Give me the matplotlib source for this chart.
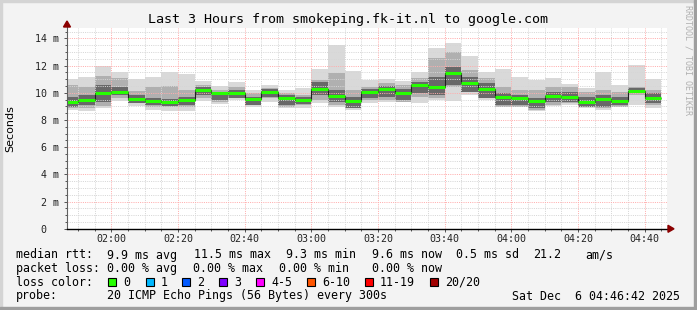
import matplotlib
matplotlib.use("Agg")
import matplotlib.pyplot as plt
import matplotlib.dates as mdates
from matplotlib.patches import Rectangle, Polygon
from matplotlib.lines import Line2D
import pandas as pd
import numpy as np

# ---------------- data (ms) ----------------
interval_end = pd.date_range("2025-12-06 01:50", "2025-12-06 04:45", freq="5min")
median_ms = [9.35, 9.47, 9.96, 10.06, 9.54, 9.40, 9.35, 9.45, 10.18, 9.96,
             9.96, 9.57, 10.06, 9.64, 9.47, 10.28, 9.79, 9.42, 10.06, 10.28,
             10.01, 10.60, 10.43, 11.46, 10.74, 10.28, 9.72, 9.62, 9.40, 9.79,
             9.69, 9.32, 9.54, 9.42, 10.16, 9.64]
ping_max = [11.01, 11.19, 11.99, 11.53, 11.01, 11.19, 11.53, 11.41, 10.89, 10.52,
            10.82, 10.21, 10.55, 10.21, 10.38, 11.75, 13.51, 11.60, 10.94, 11.01,
            10.89, 11.53, 13.27, 13.64, 12.71, 11.55, 11.75, 11.14, 10.94, 11.06,
            10.62, 10.33, 11.53, 10.57, 12.04, 10.99]
ping_min = [8.73, 8.66, 8.90, 9.38, 9.05, 8.73, 8.69, 8.69, 9.42, 9.18,
            9.47, 8.98, 9.35, 8.90, 8.90, 9.22, 8.95, 8.73, 9.22, 9.35,
            9.30, 9.27, 9.47, 9.42, 9.84, 9.47, 8.93, 8.98, 8.63, 9.03,
            9.10, 8.86, 8.73, 8.93, 9.10, 8.86]
mid_hi = [10.57, 10.45, 11.23, 11.06, 10.16, 10.45, 10.50, 10.21, 10.57, 10.21,
          10.45, 9.96, 10.33, 9.96, 9.84, 10.94, 11.43, 10.21, 10.45, 10.70,
          10.57, 11.06, 12.53, 13.02, 11.68, 11.06, 10.45, 10.21, 10.21, 10.45,
          10.45, 10.08, 10.21, 10.08, 10.45, 10.21]
mid_lo = [8.86, 8.86, 9.03, 9.59, 9.22, 8.98, 8.98, 8.98, 9.59, 9.35,
          9.59, 9.10, 9.59, 8.98, 9.10, 9.47, 9.10, 8.86, 9.47, 9.47,
          9.35, 9.72, 9.59, 10.45, 10.08, 9.59, 8.98, 8.98, 8.73, 9.10,
          9.22, 8.98, 8.86, 8.98, 9.84, 9.10]
core_hi = [9.72, 9.84, 10.57, 10.45, 9.84, 9.59, 9.52, 9.72, 10.45, 10.08,
           10.21, 9.72, 10.25, 9.84, 9.67, 10.82, 10.21, 9.72, 10.25, 10.50,
           10.25, 10.82, 11.19, 11.92, 11.19, 10.70, 9.96, 9.84, 9.59, 10.08,
           10.08, 9.72, 9.84, 9.72, 10.33, 9.96]
core_lo = [8.98, 9.10, 9.35, 9.84, 9.27, 9.10, 9.03, 9.10, 9.84, 9.47,
           9.59, 9.10, 9.72, 9.10, 9.18, 9.84, 9.35, 8.86, 9.59, 9.72,
           9.47, 9.96, 9.84, 10.57, 10.08, 9.59, 9.10, 9.10, 8.86, 9.35,
           9.35, 8.98, 8.98, 9.10, 9.96, 9.22]

y_ticks = [0, 2, 4, 6, 8, 10, 12, 14]
y_tick_labels = ["0  ", "2 m", "4 m", "6 m", "8 m", "10 m", "12 m", "14 m"]

title = "Last 3 Hours from smokeping.fk-it.nl to google.com"
loss_labels = ["0", "1", "2", "3", "4-5", "6-10", "11-19", "20/20"]
loss_colors = ["#26ff00", "#00b8ff", "#0059ff", "#7e00ff", "#ff00ff", "#ff5500", "#ff0000", "#a00000"]

# ---------------- layout ----------------
W, H = 697, 310
fig = plt.figure(figsize=(W / 100, H / 100), dpi=100)
fig.patch.set_facecolor("#f3f3f3")

def fx(px):
    return px / W

def fy(py):
    return 1 - py / H

ax_left, ax_right, ax_top, ax_bot = 67, 667, 28, 228.8
ax = fig.add_axes([fx(ax_left), fy(ax_bot), (ax_right - ax_left) / W, (ax_bot - ax_top) / H])
ax.set_facecolor("white")

t_start = mdates.date2num(pd.Timestamp("2025-12-06 01:46:42"))
t_end = mdates.date2num(pd.Timestamp("2025-12-06 04:46:42"))
ends = mdates.date2num(interval_end)
step = 5 / 1440.0
lefts = ends - step
edges = np.append(lefts, ends[-1])

med = np.array(median_ms)
# smoke
ax.bar(lefts, np.array(ping_max) - np.array(ping_min), bottom=ping_min, width=step,
       align="edge", color="#d9d9d9", linewidth=0, zorder=1)
ax.bar(lefts, np.array(mid_hi) - np.array(mid_lo), bottom=mid_lo, width=step,
       align="edge", color="#b0b0b0", linewidth=0, zorder=1.1)
ax.bar(lefts, np.array(core_hi) - np.array(core_lo), bottom=core_lo, width=step,
       align="edge", color="#686868", linewidth=0, zorder=1.2)

ax.set_xlim(t_start, t_end)
ax.set_ylim(0, 14.76)

# grid
ax.xaxis.set_major_locator(mdates.MinuteLocator(byminute=[0, 20, 40]))
ax.xaxis.set_minor_locator(mdates.MinuteLocator(byminute=range(0, 60, 5)))
ax.xaxis.set_major_formatter(mdates.DateFormatter("%H:%M"))
ax.set_yticks(y_ticks)
ax.set_yticklabels(y_tick_labels)
ax.set_yticks(np.arange(0, 14.76, 0.5), minor=True)

ax.grid(which="minor", color="#d6d6d6", linestyle=(0, (1, 1.2)), linewidth=0.72)
ax.grid(which="major", color="#ffadad", linestyle=(0, (1, 1.2)), linewidth=0.72)
ax.xaxis.set_zorder(4)
ax.yaxis.set_zorder(4)

# median line
ax.stairs(med, edges, baseline=None, color="#202020", linewidth=0.8, zorder=6)
ax.hlines(med, lefts, ends, color="#26ff00", linewidth=2.2, zorder=7)

for s in ax.spines.values():
    s.set_visible(False)

mono = "DejaVu Sans Mono"
ax.tick_params(axis="both", which="major", length=2.5, width=0.7, color="#555555",
               labelsize=7.2, labelcolor="#222222")
ax.tick_params(axis="both", which="minor", length=1.5, width=0.7, color="#555555")
ax.tick_params(axis="y", which="major", pad=3)
ax.tick_params(axis="x", which="major", pad=1.5)
for lab in ax.get_xticklabels() + ax.get_yticklabels():
    lab.set_family(mono)

# axes lines and arrows
fig.add_artist(Line2D([fx(ax_left), fx(ax_left)], [fy(ax_bot), fy(ax_top - 2)],
                      color="#606060", linewidth=0.8, zorder=10))
fig.add_artist(Line2D([fx(ax_left), fx(ax_right + 3)], [fy(ax_bot), fy(ax_bot)],
                      color="#000000", linewidth=1.0, zorder=10))
fig.add_artist(Polygon([[fx(ax_left - 3.5), fy(ax_top - 1)], [fx(ax_left + 3.5), fy(ax_top - 1)],
                        [fx(ax_left), fy(ax_top - 7)]], closed=True, color="#8b0000",
                       transform=fig.transFigure, zorder=11))
fig.add_artist(Polygon([[fx(ax_right + 1), fy(ax_bot - 3.5)], [fx(ax_right + 1), fy(ax_bot + 3.5)],
                        [fx(ax_right + 7), fy(ax_bot)]], closed=True, color="#8b0000",
                       transform=fig.transFigure, zorder=11))

# frame
fig.add_artist(Rectangle((0, fy(H)), fx(2), 1, transform=fig.transFigure, color="#d4d4d4", zorder=0))
fig.add_artist(Rectangle((0, fy(2)), 1, 2 / H, transform=fig.transFigure, color="#d4d4d4", zorder=0))
fig.add_artist(Rectangle((fx(W - 3), 0), 3 / W, 1, transform=fig.transFigure, color="#9e9e9e", zorder=0))
fig.add_artist(Rectangle((0, 0), 1, 3 / H, transform=fig.transFigure, color="#9e9e9e", zorder=0))

# texts
fig.text(fx(347.5), fy(19), title, ha="center", va="center", family=mono, fontsize=9.6, color="#000000")
fig.text(fx(10), fy(128.4), "Seconds", ha="center", va="center", rotation=90,
         family="DejaVu Sans", fontsize=8, color="#000000")
fig.text(fx(688), fy(60), "RRDTOOL / TOBI OETIKER", ha="center", va="center", rotation=270,
         family=mono, fontsize=6, color="#b0b0b0")

lfs = 8.37
def leg(x, y, s):
    fig.text(fx(x), fy(y), s, ha="left", va="center", family=mono, fontsize=lfs, color="#000000")

y1, y2, y3, y4 = 255, 268.5, 282, 296
leg(16, y1, "median rtt:")
leg(107, y1, "9.9 ms avg")
leg(194, y1, "11.5 ms max")
leg(286, y1, "9.3 ms min")
leg(372, y1, "9.6 ms now")
leg(456, y1, "0.5 ms sd")
leg(533, y1, "21.2")
leg(585, y1, "am/s")

leg(16, y2, "packet loss:")
leg(107, y2, "0.00 % avg")
leg(193, y2, "0.00 % max")
leg(279, y2, "0.00 % min")
leg(372, y2, "0.00 % now")

leg(16, y3, "loss color:")
box_x = [108, 146, 182, 219, 256, 307, 365, 430]
for bx, lab, col in zip(box_x, loss_labels, loss_colors):
    fig.add_artist(Rectangle((fx(bx), fy(y3 + 4)), 8 / W, 8 / H, transform=fig.transFigure,
                             facecolor=col, edgecolor="#000000", linewidth=0.8, zorder=5))
    leg(bx + 15, y3, lab)

leg(16, y4, "probe:")
leg(107, y4, "20 ICMP Echo Pings (56 Bytes) every 300s")
fig.text(fx(680), fy(y4), "Sat Dec  6 04:46:42 2025", ha="right", va="center",
         family=mono, fontsize=lfs, color="#000000")

fig.savefig("out.png", dpi=100, facecolor=fig.get_facecolor())
